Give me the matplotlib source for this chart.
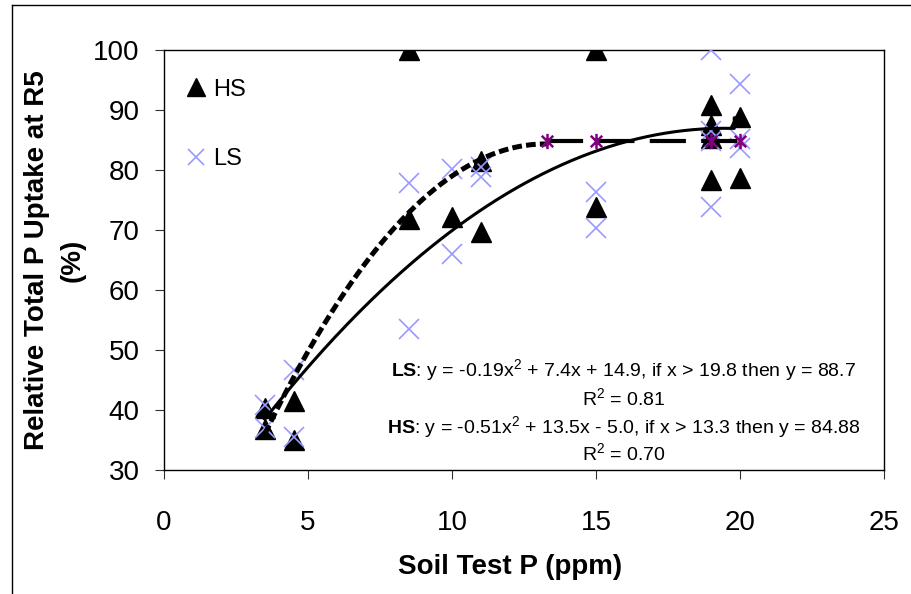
import numpy as np
import matplotlib
matplotlib.use("Agg")
import matplotlib.pyplot as plt
from matplotlib.lines import Line2D
from matplotlib.path import Path

plt.rcParams['font.family'] = ['Liberation Sans', 'DejaVu Sans']
plt.rcParams['mathtext.fontset'] = 'custom'
plt.rcParams['mathtext.rm'] = 'Liberation Sans'
plt.rcParams['mathtext.it'] = 'Liberation Sans:italic'
plt.rcParams['mathtext.bf'] = 'Liberation Sans:bold'
plt.rcParams['lines.scale_dashes'] = False

# Observed relative P uptake, high-sufficiency (HS) plots
hs_x = [3.5, 3.5, 4.5, 4.5, 8.5, 8.5, 10, 11, 11, 15, 15, 19, 19, 19, 19, 20, 20]
hs_y = [40.3, 36.8, 41.5, 35.0, 100, 71.9, 72.2, 69.7, 81.5, 100, 73.8, 90.8, 87.5, 85.3, 78.4, 88.9, 78.7]

# Observed relative P uptake, low-sufficiency (LS) plots
ls_x = [3.5, 3.5, 4.5, 4.5, 8.5, 8.5, 10, 10, 11, 11, 15, 15, 19, 19, 19, 19, 20, 20, 20]
ls_y = [40.8, 37.0, 46.7, 35.5, 77.8, 53.5, 80.2, 66.0, 80.5, 78.9, 76.4, 70.4, 100, 86.5, 84.8, 73.9, 94.4, 85.2, 83.7]

# Plateau points of the HS quadratic-plateau model
plateau_x = [13.3, 15, 19, 20]
plateau_y = [84.88, 84.88, 84.88, 84.88]

# Quadratic-plateau model coefficients
ls_coef = (-0.19, 7.4, 14.9)
ls_join, ls_plateau = 19.8, 88.7
hs_coef = (-0.51, 13.5, -5.0)
hs_join, hs_plateau = 13.3, 84.88

x_ticks = [0, 5, 10, 15, 20, 25]
y_ticks = [30, 40, 50, 60, 70, 80, 90, 100]

fig = plt.figure(figsize=(9.11, 5.94), dpi=100)
ax = fig.add_axes([164 / 911, 1 - 470 / 594, 720 / 911, 420 / 594])

# outer chart frame
fig.add_artist(Line2D([12 / 911, 12 / 911], [0, 1 - 5 / 594], transform=fig.transFigure,
                      color='black', lw=1.0))
fig.add_artist(Line2D([12 / 911, 1], [1 - 5 / 594, 1 - 5 / 594], transform=fig.transFigure,
                      color='black', lw=1.0))

ax.plot(hs_x, hs_y, linestyle='none', marker='^', ms=15, color='black',
        mec='black', label='HS', zorder=3)
ax.plot(ls_x, ls_y, linestyle='none', marker='x', ms=14, mew=1.2, color='#9999ff',
        label='LS', zorder=4)

# LS fitted curve
a, b, c = ls_coef
xs = np.linspace(3.5, ls_join, 200)
ls_fit_x = np.append(xs, [ls_join, 20])
ls_fit_y = np.append(a * xs ** 2 + b * xs + c, [ls_plateau, ls_plateau])
ax.plot(ls_fit_x, ls_fit_y, color='black', lw=2.2, zorder=5)

# HS fitted curve
a, b, c = hs_coef
xh = np.linspace(3.5, hs_join, 200)
ax.plot(xh, a * xh ** 2 + b * xh + c, color='black', lw=3.6,
        dashes=(7, 3), zorder=5)
ax.plot(plateau_x, plateau_y, color='black', lw=3.0, dashes=(26, 11), zorder=5)

star = Path([(0, -1), (0, 1), (-0.75, -0.75), (0.75, 0.75), (-0.75, 0.75), (0.75, -0.75)],
            [Path.MOVETO, Path.LINETO, Path.MOVETO, Path.LINETO, Path.MOVETO, Path.LINETO])
ax.plot(plateau_x, plateau_y, linestyle='none', marker=star, ms=11, mew=1.8,
        color='#800080', zorder=6)

ax.set_xlim(0, 25)
ax.set_ylim(30, 100)
ax.set_xticks(x_ticks)
ax.set_yticks(y_ticks)
ax.tick_params(axis='both', direction='out', length=6.5, width=0.8, labelsize=20,
               color='#333333')
ax.tick_params(axis='x', pad=22)
ax.tick_params(axis='y', pad=11)
for s in ax.spines.values():
    s.set_linewidth(1.0)
    s.set_color('black')

fig.text(510 / 911, 1 - 567 / 594, 'Soil Test P (ppm)', ha='center', va='center',
         fontsize=20, fontweight='bold')
fig.text(55 / 911, 1 - 260 / 594, 'Relative Total P Uptake at R5\n(%)', ha='center',
         va='center', rotation=90, fontsize=20, fontweight='bold',
         multialignment='center', linespacing=1.5)

leg = ax.legend(loc='upper left', bbox_to_anchor=(0.029, 0.932), frameon=False,
                fontsize=17, handlelength=0.9, handletextpad=0.3, labelspacing=2.0,
                markerscale=0.85, borderpad=0, borderaxespad=0)

eq_lines = [
    r'$\mathbf{LS}$: y = -0.19x$^2$ + 7.4x + 14.9, if x > 19.8 then y = 88.7',
    r'R$^2$ = 0.81',
    r'$\mathbf{HS}$: y = -0.51x$^2$ + 13.5x - 5.0, if x > 13.3 then y = 84.88',
    r'R$^2$ = 0.70',
]
eq_y = [370, 398, 427, 453]
for line, py in zip(eq_lines, eq_y):
    ax.text((624 - 164) / 720, (470 - py) / 420, line, transform=ax.transAxes,
            ha='center', va='center', fontsize=14)

fig.savefig('out.png', dpi=100)
